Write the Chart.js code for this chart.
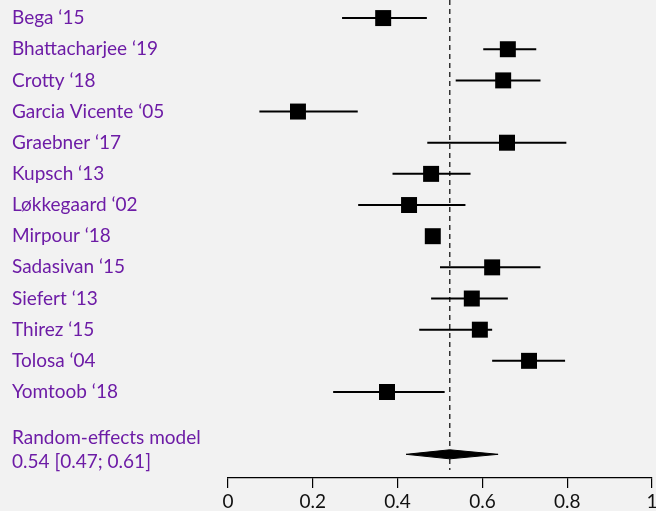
<!DOCTYPE html>
<html>
<head>
<meta charset="utf-8">
<script src="https://cdn.jsdelivr.net/npm/chart.js@4"></script>
<style>
  html, body { margin: 0; padding: 0; background: #f2f2f2; }
  #wrap { width: 656px; height: 511px; position: relative; }
</style>
</head>
<body>
<div id="wrap"><canvas id="forest"></canvas></div>
<script>
// ===== Data =====
const studies = ['Bega ‘15', 'Bhattacharjee ‘19', 'Crotty ‘18', 'Garcia Vicente ‘05', 'Graebner ‘17',
    'Kupsch ‘13', 'Løkkegaard ‘02', 'Mirpour ‘18', 'Sadasivan ‘15', 'Siefert ‘13', 'Thirez ‘15',
    'Tolosa ‘04', 'Yomtoob ‘18'];
const estimates = [0.366, 0.660, 0.649, 0.165, 0.658, 0.479, 0.427, 0.483, 0.623, 0.575, 0.594, 0.710, 0.375];
const lower     = [0.269, 0.602, 0.537, 0.074, 0.470, 0.388, 0.307, 0.468, 0.500, 0.479, 0.451, 0.623, 0.248];
const upper     = [0.469, 0.727, 0.737, 0.306, 0.798, 0.572, 0.560, 0.498, 0.737, 0.660, 0.623, 0.795, 0.511];

const pooledLabel = ['Random-effects model', '0.54 [0.47; 0.61]'];
const pooledEst = 0.523;
const pooledLower = 0.420;
const pooledUpper = 0.637;

const xTicks = [0, 0.2, 0.4, 0.6, 0.8, 1];

// ===== Layout helpers =====
const rows = studies.map((_, i) => i + 1);
const pooledRow = rows.length + 2;
const diamondHalf = 0.145;
const purple = '#6d1ca6';
const font = 'Lato, "Open Sans", sans-serif';

// whiskers: one small dataset per study
const whiskers = studies.map((_, i) => ({
    type: 'scatter',
    data: [{ x: lower[i], y: rows[i] }, { x: upper[i], y: rows[i] }],
    showLine: true,
    borderColor: '#000',
    borderWidth: 2,
    pointRadius: 0,
    order: 3
}));

const squares = {
    type: 'scatter',
    data: estimates.map((v, i) => ({ x: v, y: rows[i] })),
    pointStyle: 'rect',
    pointRadius: 11.3,
    pointHoverRadius: 11.3,
    backgroundColor: '#000',
    borderWidth: 0,
    order: 1
};

const refLine = {
    type: 'scatter',
    data: [{ x: pooledEst, y: 0.42 }, { x: pooledEst, y: 15.5 }],
    showLine: true,
    borderColor: '#333',
    borderWidth: 1.5,
    borderDash: [5, 4],
    pointRadius: 0,
    order: 4
};

const diamond = {
    type: 'scatter',
    data: [
        { x: pooledLower, y: pooledRow },
        { x: pooledEst, y: pooledRow - diamondHalf },
        { x: pooledUpper, y: pooledRow },
        { x: pooledEst, y: pooledRow + diamondHalf },
        { x: pooledLower, y: pooledRow }
    ],
    showLine: true,
    fill: 'shape',
    borderColor: '#000',
    backgroundColor: '#000',
    borderWidth: 1,
    pointRadius: 0,
    order: 2
};

// ===== Labels on the left =====
const labelPlugin = {
    id: 'studyLabels',
    afterDraw(chart) {
        const { ctx } = chart;
        const y = chart.scales.y;
        ctx.save();
        ctx.font = '19px ' + font;
        ctx.fillStyle = purple;
        ctx.textAlign = 'left';
        ctx.textBaseline = 'middle';
        studies.forEach((s, i) => ctx.fillText(s, 12, y.getPixelForValue(rows[i])));
        ctx.fillText(pooledLabel[0], 12, y.getPixelForValue(pooledRow - 0.52));
        ctx.fillText(pooledLabel[1], 12, y.getPixelForValue(pooledRow + 0.24));
        ctx.restore();
    }
};

new Chart(document.getElementById('forest'), {
    type: 'scatter',
    data: { datasets: [refLine, ...whiskers, diamond, squares] },
    plugins: [labelPlugin],
    options: {
        responsive: true,
        maintainAspectRatio: false,
        animation: false,
        layout: { autoPadding: false, padding: { left: 228, right: 4, top: 0, bottom: 0 } },
        plugins: {
            legend: { display: false },
            tooltip: { enabled: false }
        },
        scales: {
            x: {
                type: 'linear',
                min: 0,
                max: 1,
                afterBuildTicks: axis => { axis.ticks = xTicks.map(v => ({ value: v })); },
                afterFit: axis => {
                    axis.height = 33;
                    axis.paddingLeft = 0;
                    axis.paddingRight = 0;
                },
                grid: {
                    drawOnChartArea: false,
                    drawTicks: true,
                    tickLength: 10,
                    tickColor: '#000',
                    lineWidth: 1.2
                },
                border: { display: true, color: '#000', width: 1.2 },
                ticks: {
                    color: '#111',
                    padding: 4,
                    maxRotation: 0,
                    font: { family: font, size: 19, lineHeight: 1 },
                    callback: v => String(v)
                }
            },
            y: {
                type: 'linear',
                reverse: true,
                min: 0.42,
                max: 15.76,
                display: false
            }
        }
    }
});
</script>
</body>
</html>
